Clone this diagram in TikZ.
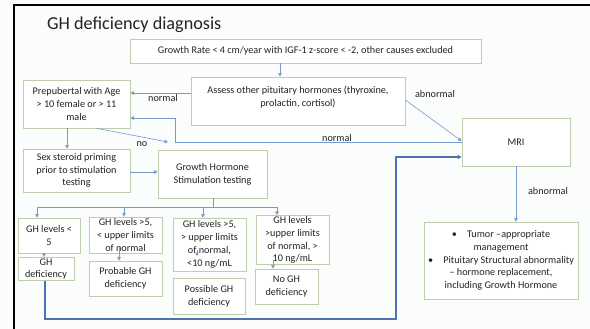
\documentclass[tikz,border=0pt]{standalone}
\usepackage{fontspec}
\setmainfont{Carlito}
\usetikzlibrary{arrows.meta}
\definecolor{bgc}{RGB}{251,252,252}
\definecolor{boxc}{RGB}{190,206,172}
\definecolor{arrc}{RGB}{120,152,208}
\definecolor{thickc}{RGB}{78,114,180}
\definecolor{txtc}{RGB}{35,35,35}
\tikzset{
  box/.style={draw=boxc, line width=0.8pt, fill=white, align=center, inner sep=1pt,
    font=\fontsize{10.2}{12.8}\selectfont, text=txtc},
  lbl/.style={font=\fontsize{10.2}{12}\selectfont, text=txtc, inner sep=0pt},
  arr/.style={draw=arrc, line width=0.6pt, -{Triangle[length=3.5pt,width=3.5pt]}},
  ln/.style={draw=arrc, line width=0.6pt},
  thick arr/.style={draw=thickc, line width=1.6pt, -{Triangle[length=4pt,width=4pt]}}
}
\begin{document}
\begin{tikzpicture}[x=1pt,y=-1pt]
\useasboundingbox (0,0) rectangle (590,329);
\fill[bgc] (0,0) rectangle (590,329);
\draw[black, line width=2.2pt] (14,340) -- (14,5) -- (600,5);
\node[anchor=base west, font=\fontsize{18.2}{22}\selectfont, text=txtc, inner sep=0pt] (title) at (47,30) {GH deficiency diagnosis};

% boxes
\node[box, minimum width=351, minimum height=24] (growth) at (305.5,51) {Growth Rate < 4 cm/year with IGF-1 z-score < -2, other causes excluded};
\node[box, minimum width=214, minimum height=48] (assess) at (298,101) {};
\node[lbl, align=center, anchor=north, font=\fontsize{10.2}{13.2}\selectfont] (assesst) at (298,86) {Assess other pituitary hormones (thyroxine,\\prolactin, cortisol)};
\node[box, minimum width=107, minimum height=48] (prep) at (76.5,104) {Prepubertal with Age\\> 10 female or > 11\\male};
\node[box, minimum width=108, minimum height=48] (mri) at (516,142) {MRI};
\node[box, minimum width=107, minimum height=43] (sex) at (76.5,170.5) {Sex steroid priming\\prior to stimulation\\testing};
\node[box, minimum width=109, minimum height=48] (stim) at (212.5,174) {Growth Hormone\\Stimulation testing};
\node[box, minimum width=62, minimum height=35] (b1) at (49,235.5) {GH levels <\\5};
\node[box, minimum width=73, minimum height=36] (b2) at (125.5,235) {GH levels >5,\\< upper limits\\of normal};
\node[box, minimum width=73, minimum height=53] (b3) at (209.5,244.5) {GH levels >5,\\> upper limits\\of normal,\\<10 ng/mL};
\node[box, minimum width=73, minimum height=48] (b4) at (292.5,240) {GH levels\\>upper limits\\of normal, >\\10 ng/mL};
\node[box, minimum width=56, minimum height=22] (r1) at (46,269) {GH\\deficiency};
\node[box, minimum width=73, minimum height=35] (r2) at (125.5,278.5) {Probable GH\\deficiency};
\node[box, minimum width=72, minimum height=36] (r3) at (209,296) {Possible GH\\deficiency};
\node[box, minimum width=63, minimum height=35] (r4) at (286.5,286.5) {No GH\\deficiency};
\node[box, minimum width=154, minimum height=77] (final) at (501,260.5) {\textbullet\quad Tumor –appropriate\\management\\\textbullet\quad Pituitary Structural abnormality\\– hormone replacement,\\including Growth Hormone};

% labels
\node[lbl] (l1) at (163,98) {normal};
\node[lbl] (l2) at (435,94) {abnormal};
\node[lbl] (l3) at (337,138) {normal};
\node[lbl] (l4) at (142,144) {no};
\node[lbl] (l5) at (548,191) {abnormal};

% coordinates
\coordinate (bus) at (213,207);
\coordinate (busL) at (37,207);
\coordinate (busR) at (277,207);

% connectors
\draw[arr] (growth.south -| 280,0) -- (assess.north -| 280,0);
\draw[arr] (assess.west |- 0,93) -- (prep.east |- 0,93);
\draw[arr] (mri.west |- 0,142) -- (175,142) -- (175,118) -- (prep.east |- 0,118);
\draw[arr] (assess.east |- 0,100) -- (mri.west |- 0,141);
\draw[arr] (prep.south -| 97,0) -- (168,142);
\draw[arr] (prep.south -| 67,0) -- (sex.north -| 67,0);
\draw[arr] (sex.east |- 0,172) -- (stim.west |- 0,172);
\draw[ln] (stim.south -| bus) -- (bus);
\draw[ln] (busL) -- (busR);
\draw[arr] (busL) -- (b1.north -| busL);
\draw[arr] (124,207) -- (b2.north -| 124,0);
\draw[arr] (203,207) -- (b3.north -| 203,0);
\draw[arr] (busR) -- (b4.north -| busR);
\draw[arr] (b1.south -| 44,0) -- (r1.north -| 44,0);
\draw[arr] (119,247) -- (r2.north -| 119,0);
\draw[arr] (197,250) -- (197,256);
\draw[arr] (273,260) -- (r4.north -| 273,0);
\draw[arr] (mri.south) -- (final.north -| mri.south);
\draw[thick arr] (r1.south -| 45,0) -- (45,319) -- (396,319) -- (396,157) -- (mri.west |- 0,157);
\end{tikzpicture}
\end{document}
